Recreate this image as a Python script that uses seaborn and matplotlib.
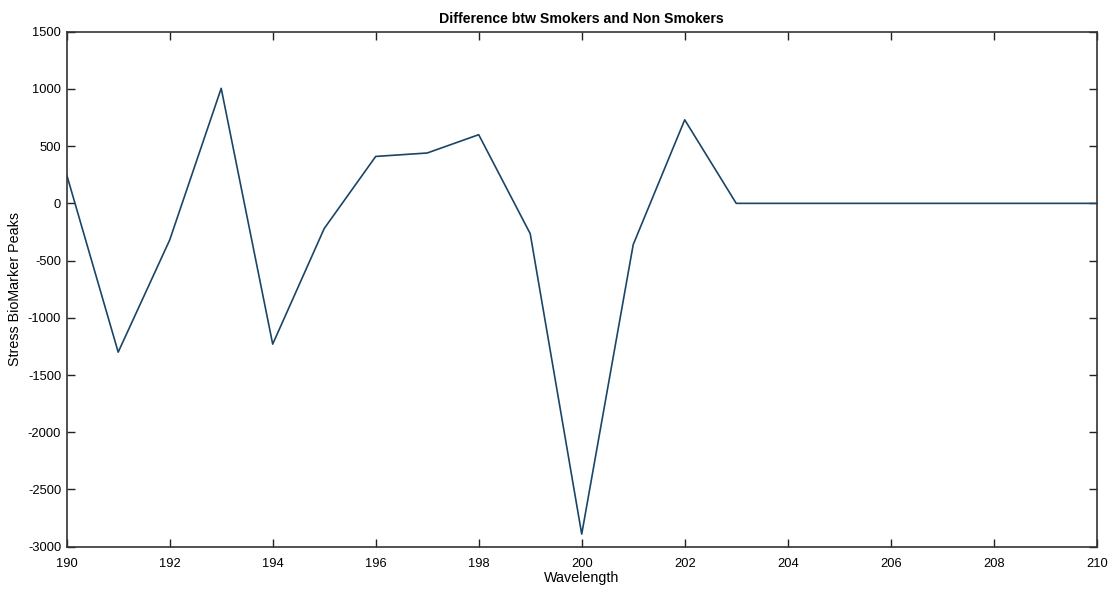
import matplotlib
matplotlib.use("Agg")
import matplotlib.pyplot as plt
import seaborn as sns
import pandas as pd

wavelength = [190, 191, 192, 193, 194, 195, 196, 197, 198, 199, 200,
              201, 202, 203, 204, 205, 206, 207, 208, 209, 210]
difference = [250, -1300, -320, 1005, -1230, -220, 410, 440, 600, -265, -2890,
              -360, 730, 0, 0, 0, 0, 0, 0, 0, 0]
x_ticks = [190, 192, 194, 196, 198, 200, 202, 204, 206, 208, 210]
y_ticks = [-3000, -2500, -2000, -1500, -1000, -500, 0, 500, 1000, 1500]

sns.set_theme(style="white")
plt.rcParams['font.family'] = ['Liberation Sans', 'DejaVu Sans']

df = pd.DataFrame({"Wavelength": wavelength, "Difference": difference})

fig = plt.figure(figsize=(11.19, 5.89), dpi=100)
ax = fig.add_axes([0.0596, 0.0718, 0.9205, 0.8744])
sns.lineplot(data=df, x="Wavelength", y="Difference", ax=ax,
             color="#1b4566", linewidth=1.2)

ax.set_xlim(190, 210)
ax.set_ylim(-3000, 1500)
ax.set_xticks(x_ticks)
ax.set_yticks(y_ticks)
ax.set_xticklabels([str(t) for t in x_ticks])
ax.set_yticklabels([str(t) for t in y_ticks])
ax.tick_params(direction="in", length=6, width=1, colors="#222222",
               labelsize=9.3, top=True, right=True, bottom=True, left=True,
               labelcolor="black")
ax.tick_params(axis="x", pad=8)
ax.tick_params(axis="y", pad=4)
for s in ax.spines.values():
    s.set_visible(True)
    s.set_color("#333333")
    s.set_linewidth(1.2)

ax.set_xlabel("Wavelength", fontsize=10.3, labelpad=1, color="black")
ax.set_ylabel("Stress BioMarker Peaks", fontsize=10.3, labelpad=4, color="black")
ax.set_title("Difference btw Smokers and Non Smokers", fontsize=10.2,
             fontweight="bold", pad=6, color="black")

fig.savefig("out.png", dpi=100, facecolor="white")
